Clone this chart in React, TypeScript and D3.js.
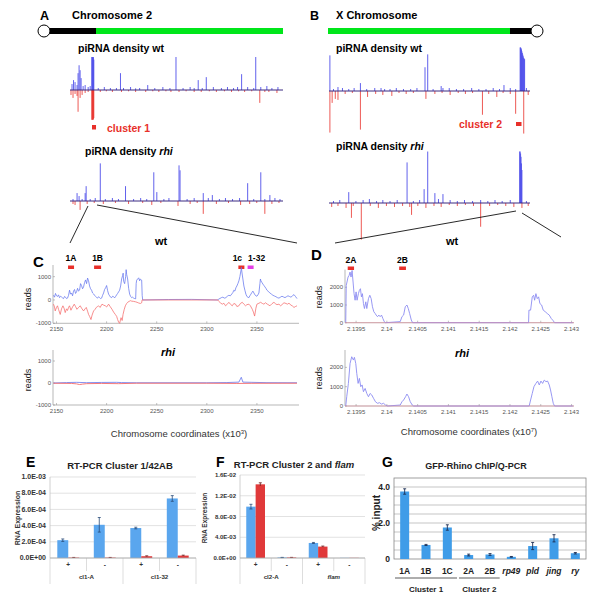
import React from "react";
import * as d3 from "d3";

type P = [number, number];

// ---------- Panel A (chromosome 2R, Mb vs relative piRNA density) ----------
const chr2WtSense: P[] = [[0.2,18],[0.35,30],[0.5,24],[0.7,15],[0.8,51],[0.9,75],[1.0,60],[1.1,36],[1.3,12],[1.5,15],[1.8,9],[2.0,12],[2.16,100],[2.2,100],[2.24,100],[2.28,97],[2.32,100],[2.36,92],[2.8,6],[3.4,9],[4.0,6],[4.6,6],[5.0,51],[5.3,6],[6.0,9],[6.5,5],[6.9,6],[7.7,15],[8.4,6],[9.2,9],[9.9,6],[10.5,100],[11.2,6],[11.9,9],[12.3,6],[12.7,30],[13.1,6],[13.5,39],[14.2,9],[15.0,6],[15.6,9],[16.2,6],[16.6,9],[17.0,48],[17.6,9],[18.2,6],[18.4,100],[18.9,9],[19.5,12],[20.0,6],[20.6,9]];
const chr2WtAnti: P[] = [[0.1,15],[0.3,24],[0.5,12],[0.7,18],[0.8,66],[1.0,24],[1.2,15],[1.5,9],[1.8,6],[2.16,90],[2.2,91],[2.24,90],[2.28,88],[2.32,90],[2.36,85],[3.0,6],[3.6,4],[4.2,6],[5.1,6],[5.8,4],[6.5,6],[7.5,6],[8.2,4],[8.8,6],[9.5,4],[10.0,6],[10.8,6],[11.5,4],[12.3,6],[13.0,6],[13.8,4],[14.5,6],[15.3,4],[16.0,6],[16.7,4],[17.3,6],[18.0,4],[18.8,39],[19.3,6],[19.7,6],[20.5,9]];
const chr2RhiSense: P[] = [[0.3,6],[0.7,24],[0.9,15],[1.2,6],[1.5,24],[1.6,45],[2.0,6],[2.5,9],[3.0,114],[3.5,6],[4.2,9],[4.8,6],[5.5,45],[6.3,6],[7.0,9],[7.6,6],[8.3,87],[8.6,27],[9.3,6],[9.8,9],[10.8,108],[10.9,93],[11.6,6],[12.3,9],[13.2,24],[13.7,9],[14.1,18],[14.8,6],[15.4,9],[16.1,6],[16.8,9],[17.6,54],[18.2,6],[18.9,87],[19.3,6],[19.8,18],[20.3,9],[20.8,6]];
const chr2RhiAnti: P[] = [[0.3,9],[0.5,12],[1.0,27],[1.7,9],[2.4,6],[3.3,9],[4.5,6],[5.8,9],[7.2,6],[8.1,12],[9.0,6],[10.7,15],[11.9,9],[12.6,6],[13.2,39],[14.5,9],[15.7,6],[16.9,12],[17.8,9],[18.5,6],[19.3,39],[20.0,9],[20.7,6]];

// ---------- Panel B (X chromosome) ----------
const chrXWtSense: P[] = [[0.1,108],[0.5,6],[1.0,12],[1.5,9],[2.2,6],[2.8,9],[3.5,24],[4.2,6],[5.1,9],[5.8,9],[6.2,6],[6.8,6],[7.5,9],[8.3,6],[9.1,6],[9.8,9],[10.7,72],[11.0,111],[11.6,6],[12.5,15],[12.7,9],[13.4,9],[14.2,6],[15.0,6],[15.9,9],[16.7,6],[17.5,6],[18.3,9],[19.0,6],[19.5,18],[20.2,9],[20.8,6],[21.3,132],[21.35,132],[21.4,130],[21.45,126],[21.5,120],[21.55,115],[21.6,110],[21.65,105],[21.7,100],[21.75,98],[21.8,96],[22.0,9]];
const chrXWtAnti: P[] = [[0.1,126],[0.35,36],[0.7,24],[1.0,27],[1.8,9],[2.6,6],[3.5,117],[4.3,18],[5.2,9],[6.0,12],[7.0,15],[7.8,6],[8.6,9],[9.4,6],[10.8,24],[11.8,9],[12.6,6],[13.5,12],[14.4,6],[15.2,9],[16.0,6],[17.1,72],[17.8,9],[18.7,18],[19.4,6],[20.2,9],[20.8,69],[21.7,129],[22.2,12]];
const chrXRhiSense: P[] = [[0.5,6],[1.2,9],[2.2,33],[3.0,6],[3.8,9],[4.5,12],[5.3,6],[6.0,9],[6.8,6],[7.6,9],[8.7,123],[9.4,6],[10.1,9],[10.6,42],[11.0,156],[11.8,30],[12.2,12],[12.7,27],[13.5,9],[14.3,6],[15.1,9],[16.0,6],[16.9,9],[17.7,6],[18.5,9],[19.3,6],[20.2,9],[21.25,156],[21.3,156],[21.35,150],[21.4,140],[21.45,120],[21.5,100],[22.0,6]];
const chrXRhiAnti: P[] = [[0.3,12],[1.0,9],[1.9,15],[2.5,45],[2.7,9],[3.6,111],[4.6,9],[5.5,15],[6.4,9],[7.3,12],[8.2,9],[9.0,12],[9.2,36],[9.9,9],[10.8,15],[11.7,9],[12.5,12],[13.4,6],[14.3,9],[15.2,6],[16.1,9],[16.9,72],[17.9,9],[18.8,6],[19.7,9],[20.6,12],[21.5,15],[22.2,9]];

// ---------- Panel C (cluster 1, coordinates x10^3, reads) ----------
const cWtSense: P[] = [[2147,200],[2148,120],[2149,280],[2150,180],[2151,150],[2152,220],[2153,100],[2154,160],[2155,130],[2156,90],[2157,60],[2158,150],[2159,120],[2160,60],[2161,80],[2162,200],[2163,420],[2164,250],[2165,300],[2166,180],[2167,380],[2168,450],[2169,280],[2170,350],[2171,500],[2172,380],[2173,420],[2174,700],[2175,620],[2176,480],[2177,560],[2178,750],[2179,860],[2180,700],[2181,940],[2182,820],[2183,600],[2184,480],[2185,420],[2186,300],[2187,260],[2188,200],[2189,150],[2190,110],[2191,80],[2192,140],[2193,100],[2194,60],[2195,80],[2196,200],[2197,300],[2198,450],[2199,520],[2200,620],[2201,400],[2202,250],[2203,180],[2204,120],[2205,100],[2206,160],[2207,140],[2208,90],[2209,150],[2210,220],[2211,280],[2212,350],[2213,420],[2214,600],[2215,900],[2216,1050],[2216.5,1150],[2217,800],[2218,700],[2219,1000],[2219.5,1300],[2220,1100],[2221,900],[2222,500],[2223,250],[2224,150],[2225,100],[2226,120],[2227,80],[2228,60],[2229,50],[2229.5,700],[2230,850],[2231,900],[2232,950],[2233,820],[2233.5,900],[2234,880],[2235,850],[2235.5,200],[2236,0],[2262,20],[2285,25],[2311,0],[2312,50],[2313,60],[2314.5,100],[2316,120],[2317.5,80],[2319,100],[2320.5,160],[2322,200],[2323.5,180],[2325,260],[2326,320],[2327,420],[2328,380],[2329,520],[2330,600],[2331,700],[2332,820],[2333,1000],[2334,1250],[2334.5,1400],[2335,1200],[2336,900],[2337,600],[2338,420],[2339,250],[2340,150],[2341,120],[2342,100],[2343,180],[2344,250],[2345,320],[2346,380],[2347,300],[2348,220],[2349,180],[2350,160],[2351,220],[2352,300],[2353,700],[2353.5,900],[2354,820],[2355,750],[2356,680],[2357,620],[2358,560],[2359,500],[2360,420],[2361,380],[2362,340],[2363,300],[2364.5,250],[2366,200],[2367.5,170],[2369,140],[2370.5,100],[2372,80],[2373.5,120],[2375,160],[2376.5,130],[2378,100],[2379.5,140],[2381,180],[2382.5,150],[2384,120],[2385.5,180],[2387,230],[2388.5,150],[2390,60]];
const cWtAnti: P[] = [[2147,-180],[2148,-300],[2148.7,-470],[2150,-320],[2151,-250],[2152,-400],[2153.7,-620],[2155,-380],[2156.4,-250],[2157.5,-350],[2158.7,-540],[2160,-380],[2161,-450],[2162,-320],[2163,-250],[2164.4,-440],[2166,-300],[2167.7,-180],[2169,-280],[2170.4,-400],[2172,-320],[2173.7,-250],[2175,-350],[2177,-470],[2178.5,-380],[2179.7,-320],[2181,-480],[2182,-620],[2183,-700],[2184.4,-840],[2185.5,-650],[2187,-470],[2188.5,-400],[2189.7,-320],[2191,-280],[2192,-250],[2193.5,-320],[2195.4,-180],[2197,-220],[2198.7,-250],[2200,-300],[2202,-180],[2203.5,-280],[2205.4,-400],[2207,-520],[2208.7,-620],[2210,-700],[2211,-840],[2212,-950],[2213,-1060],[2214.4,-760],[2215.5,-880],[2216.4,-620],[2217.5,-420],[2218.7,-250],[2220,-150],[2221,-100],[2222.5,-60],[2223.7,-30],[2225,-50],[2227,-60],[2229,-80],[2230.4,-100],[2232,-130],[2233.7,-150],[2235,-120],[2235.4,0],[2311,0],[2312,-60],[2313.5,-120],[2315.4,-180],[2317,-140],[2318.7,-250],[2320,-200],[2322,-100],[2323.5,-180],[2325.4,-250],[2327,-150],[2328.7,-180],[2330,-280],[2332,-250],[2333.5,-150],[2335.4,-100],[2337,-180],[2338.7,-250],[2340,-200],[2342,-180],[2343.5,-250],[2345.4,-400],[2346.5,-520],[2347.7,-690],[2349,-350],[2350,-180],[2352,-140],[2353.7,-100],[2355.5,-150],[2357,-180],[2358.5,-120],[2360.4,-180],[2362,-220],[2363,-250],[2365,-160],[2367,-100],[2368.5,-160],[2370,-200],[2372,-180],[2373.7,-250],[2375,-200],[2377,-120],[2379,-150],[2380.4,-180],[2382,-140],[2384,-220],[2385.5,-260],[2387,-320],[2388.5,-280],[2390,-250]];
const cRhiSense: P[] = [[2147,0],[2160,20],[2170,30],[2180,15],[2195,25],[2210,30],[2215,20],[2230,10],[2300,10],[2320,20],[2332,40],[2334.4,260],[2336,40],[2345,30],[2360,15],[2390,10]];
const cRhiAnti: P[] = [[2147,-10],[2165,-20],[2170,-40],[2173,-70],[2176,-50],[2180,-30],[2195,-20],[2212,-30],[2230,-10],[2300,-10],[2330,-20],[2345,-15],[2390,-10]];
const cAmpLabels = ["1A", "1B", "1c", "1-32"];
const cAmpStart = [2161.5, 2187.5, 2331.5, 2340.7];
const cAmpEnd = [2167.5, 2194.5, 2337.5, 2346.7];

// ---------- Panel D (cluster 2, coordinates in kb; axis shown x10^7) ----------
const dWt: P[] = [[21393.32,0],[21393.4,2100],[21393.7,2580],[21393.86,2670],[21394.02,2860],[21394.18,2580],[21394.35,2950],[21394.51,2300],[21394.67,1640],[21394.84,1270],[21395.0,1740],[21395.16,1270],[21395.38,1640],[21395.54,1830],[21395.71,1920],[21395.87,1460],[21396.03,1640],[21396.2,1080],[21396.36,800],[21396.58,1180],[21396.74,800],[21397.01,1360],[21397.23,1550],[21397.45,1360],[21397.66,900],[21397.88,620],[21398.1,520],[21398.26,430],[21398.48,340],[21398.7,430],[21398.91,340],[21399.13,430],[21399.35,240],[21399.57,60],[21399.78,0],[21402.17,60],[21402.45,340],[21402.72,430],[21402.99,900],[21403.26,1000],[21403.48,800],[21403.7,520],[21403.97,150],[21404.18,0],[21423.02,0],[21423.08,710],[21423.35,710],[21423.62,1460],[21423.84,1550],[21424.0,1270],[21424.21,1640],[21424.43,1360],[21424.65,1460],[21424.86,1080],[21425.14,1000],[21425.4,710],[21425.73,620],[21426.05,520],[21426.38,430],[21426.7,240],[21427.03,110],[21427.24,0],[21430.2,0]];
const dRhi: P[] = [[21393.32,0],[21393.48,480],[21393.75,1170],[21394.02,2200],[21394.29,2550],[21394.57,2380],[21394.73,2520],[21394.95,2200],[21395.11,1690],[21395.33,1170],[21395.54,1430],[21395.76,1000],[21395.98,1090],[21396.2,740],[21396.47,910],[21396.74,650],[21397.01,480],[21397.28,650],[21397.55,570],[21397.83,400],[21398.15,220],[21398.48,140],[21398.8,170],[21399.13,100],[21399.46,140],[21399.78,50],[21400.11,0],[21402.17,50],[21402.45,220],[21402.72,310],[21403.04,480],[21403.26,620],[21403.53,480],[21403.8,220],[21404.13,50],[21404.35,0],[21423.12,0],[21423.35,310],[21423.62,650],[21423.89,1000],[21424.21,1170],[21424.49,1290],[21424.76,1090],[21425.03,1290],[21425.3,1170],[21425.57,1340],[21425.84,1260],[21426.11,1290],[21426.38,1090],[21426.59,830],[21426.81,480],[21427.03,140],[21427.24,0],[21430.2,0]];
const dAmpLabels = ["2A", "2B"];
const dAmpStart = [21393.64, 21402.0];
const dAmpEnd = [21394.67, 21403.1];

// ---------- Panel E ----------
const eSub = ["+", "-", "+", "-"];
const eGroups = ["cl1-A", "cl1-32"];
const eBlue = [2.2e-4, 4.1e-4, 3.7e-4, 7.35e-4];
const eBlueErr = [0.15e-4, 0.9e-4, 0.1e-4, 0.35e-4];
const eRed = [0.05e-4, 0.05e-4, 0.22e-4, 0.3e-4];
const eRedErr = [0.02e-4, 0.02e-4, 0.05e-4, 0.05e-4];
const eTicks = [0, 2e-4, 4e-4, 6e-4, 8e-4, 1e-3];

// ---------- Panel F ----------
const fSub = ["+", "-", "+", "-"];
const fGroups = ["cl2-A", "flam"];
const fBlue = [9.9e-3, 0.1e-3, 2.9e-3, 0.03e-3];
const fBlueErr = [0.45e-3, 0.02e-3, 0.1e-3, 0];
const fRed = [1.42e-2, 0.1e-3, 2.2e-3, 0.03e-3];
const fRedErr = [0.3e-3, 0.02e-3, 0.1e-3, 0];
const fTicks = [0, 4e-3, 8e-3, 1.2e-2, 1.6e-2];

// ---------- Panel G ----------
const gCats = ["1A", "1B", "1C", "2A", "2B", "rp49", "pld", "jing", "ry"];
const gItalic = [false, false, false, false, false, true, true, true, true];
const gVals = [3.75, 0.78, 1.75, 0.22, 0.25, 0.12, 0.72, 1.15, 0.32];
const gErr = [0.15, 0.03, 0.15, 0.05, 0.05, 0.02, 0.2, 0.2, 0.04];
const gTicks = [0, 2.0, 4.0];
const gTickLabels = ["0", "2.0", "4.0"];
const gGrid = [0.5, 1, 1.5, 2, 2.5, 3, 3.5, 4];
const gClusters = [{ label: "Cluster 1", from: "1A", to: "1C" }, { label: "Cluster 2", from: "2A", to: "2B" }];

const FONT = "'Liberation Sans', Arial, Helvetica, sans-serif";
const RED = "#e8302a";
const TBLUE = "#4f4fea";
const LBLUE = "#6476ee";
const LRED = "#f46a6a";
const DBLUE = "#8c8cf2";
const BAR_BLUE = "#5aa6ee";
const BAR_RED = "#e0393a";
const G_BLUE = "#3f9ce8";

function sci(v: number) {
  if (v === 0) return "0.0E+00";
  const e = Math.floor(Math.log10(Math.abs(v)) + 1e-9);
  const m = v / Math.pow(10, e);
  return m.toFixed(1) + "E" + (e < 0 ? "-" : "+") + String(Math.abs(e)).padStart(2, "0");
}

const densK = d3.scaleLinear().domain([0, 100]).range([0, 33]);

function Spikes({ data, x, base, dir, color, w = 0.9 }: any) {
  return (
    <g stroke={color} strokeWidth={w}>
      {data.map((d: P, i: number) => (
        <line key={i} x1={x(d[0])} x2={x(d[0])} y1={base} y2={base - dir * densK(d[1])} />
      ))}
    </g>
  );
}

function Track({ sense, anti, x, base }: any) {
  const [r0, r1] = x.range();
  return (
    <g>
      <Spikes data={anti} x={x} base={base} dir={-1} color={RED} w={0.8} />
      <Spikes data={sense} x={x} base={base} dir={1} color={TBLUE} w={0.9} />
      <line x1={r0} x2={r1} y1={base} y2={base} stroke="#3a2a80" strokeWidth={1} />
    </g>
  );
}

function TraceAxes({ x, y, xTicks, yTicks, xFmt }: any) {
  const [x0, x1] = x.range();
  const [yb, yt] = y.range();
  return (
    <g fontSize={6} fill="#555" fontFamily={FONT}>
      <line x1={x0} x2={x0} y1={yb} y2={yt} stroke="#999" strokeWidth={0.7} />
      <line x1={x0} x2={x1} y1={yb} y2={yb} stroke="#999" strokeWidth={0.7} />
      {yTicks.map((t: number) => (
        <g key={"y" + t}>
          <line x1={x0} x2={x0 + 2} y1={y(t)} y2={y(t)} stroke="#999" strokeWidth={0.6} />
          <text x={x0 - 2} y={y(t) + 2} textAnchor="end">{t}</text>
        </g>
      ))}
      {xTicks.map((t: number) => (
        <g key={"x" + t}>
          <line x1={x(t)} x2={x(t)} y1={yb} y2={yb - 2} stroke="#999" strokeWidth={0.6} />
          <text x={x(t)} y={yb + 8} textAnchor="middle">{xFmt(t)}</text>
        </g>
      ))}
    </g>
  );
}

function BarChart({ sub, groups, blue, blueErr, red, redErr, ticks, x0, x1, y0, y1, max, tickFont }: any) {
  const x = d3.scaleBand<number>().domain(d3.range(sub.length)).range([x0, x1]);
  const y = d3.scaleLinear().domain([0, max]).range([y0, y1]);
  const bw = x.bandwidth() * 0.3;
  const gw = x.bandwidth() * 2;
  return (
    <g fontFamily={FONT}>
      {ticks.map((t: number) => (
        <g key={t}>
          <line x1={x0} x2={x1} y1={y(t)} y2={y(t)} stroke="#d6d6d6" strokeWidth={0.7} />
          <text x={x0 - 4} y={y(t) + 2.2} textAnchor="end" fontSize={tickFont} fontWeight="bold" fill="#333">{sci(t)}</text>
        </g>
      ))}
      <line x1={x0} x2={x0} y1={y1} y2={y0} stroke="#c4c4c4" strokeWidth={0.8} />
      {sub.map((s: string, i: number) => {
        const c = (x(i) as number) + x.bandwidth() / 2;
        return (
          <g key={i}>
            <rect x={c - bw} y={y(blue[i])} width={bw} height={y0 - y(blue[i])} fill={BAR_BLUE} />
            <rect x={c} y={y(red[i])} width={bw} height={y0 - y(red[i])} fill={BAR_RED} />
            {blueErr[i] > 0 && (
              <g stroke="#2a4c7a" strokeWidth={0.8}>
                <line x1={c - bw / 2} x2={c - bw / 2} y1={y(blue[i] - blueErr[i])} y2={y(blue[i] + blueErr[i])} />
                <line x1={c - bw / 2 - 1.5} x2={c - bw / 2 + 1.5} y1={y(blue[i] + blueErr[i])} y2={y(blue[i] + blueErr[i])} />
                <line x1={c - bw / 2 - 1.5} x2={c - bw / 2 + 1.5} y1={y(blue[i] - blueErr[i])} y2={y(blue[i] - blueErr[i])} />
              </g>
            )}
            {redErr[i] > 0 && (
              <g stroke="#6a1a1a" strokeWidth={0.8}>
                <line x1={c + bw / 2} x2={c + bw / 2} y1={y(red[i] - redErr[i])} y2={y(red[i] + redErr[i])} />
                <line x1={c + bw / 2 - 1.5} x2={c + bw / 2 + 1.5} y1={y(red[i] + redErr[i])} y2={y(red[i] + redErr[i])} />
              </g>
            )}
            <text x={c} y={y0 + 9} textAnchor="middle" fontSize={6.5} fontWeight="bold" fill="#333">{s}</text>
            <line x1={x(i) as number} x2={x(i) as number} y1={y0} y2={i % 2 === 0 ? y0 + 26 : y0 + 13} stroke="#cfcfcf" strokeWidth={0.7} />
          </g>
        );
      })}
      <line x1={x1} x2={x1} y1={y0} y2={y0 + 26} stroke="#cfcfcf" strokeWidth={0.7} />
      <line x1={x0} x2={x1} y1={y0} y2={y0} stroke="#a8a8a8" strokeWidth={0.8} />
      {groups.map((g: string, j: number) => (
        <text key={g} x={x0 + gw * j + gw / 2} y={y0 + 21} textAnchor="middle" fontSize={6.2} fontWeight="bold" fill="#333" fontStyle={g === "flam" ? "italic" : "normal"}>{g}</text>
      ))}
    </g>
  );
}

export default function App() {
  const chr2X = d3.scaleLinear().domain([0, 21.1]).range([70, 283]);
  const chrXX = d3.scaleLinear().domain([0, 22.4]).range([329, 530]);

  const xC = d3.scaleLinear().domain([2146.5, 2392]).range([53, 299]);
  const yCwt = d3.scaleLinear().domain([-1000, 1500]).range([323.3, 265]).clamp(true);
  const yCrhi = d3.scaleLinear().domain([-1000, 1500]).range([405, 350]).clamp(true);
  const xD = d3.scaleLinear().domain([21393.2, 21430.4]).range([345, 574]);
  const yDwt = d3.scaleLinear().domain([0, 3000]).range([322.7, 269.6]);
  const yDrhi = d3.scaleLinear().domain([0, 2900]).range([406, 350]);

  const lineOf = (x: any, y: any) => d3.line<P>().x((d) => x(d[0])).y((d) => y(d[1]));
  const cTicks = [2150, 2200, 2250, 2300, 2350];
  const dTicks = [21395, 21400, 21405, 21410, 21415, 21420, 21425, 21430];
  const dFmt = (v: number) => String(+(v / 10000).toFixed(4));

  const xG = d3.scaleBand<string>().domain(gCats).range([394, 586]);
  const yG = d3.scaleLinear().domain([0, 4.5]).range([559, 478]);
  const gbw = 9;

  return (
    <svg width={593} height={600} viewBox="0 0 593 600" style={{ position: "absolute", left: 0, top: 0 }} fontFamily={FONT}>
      <rect width={593} height={600} fill="#fff" />

      {/* ===== Panel A ===== */}
      <text x={40} y={20} fontSize={12.5} fontWeight="bold">A</text>
      <text x={72} y={19} fontSize={11} fontWeight="bold">Chromosome 2</text>
      <rect x={44} y={28} width={52} height={6} fill="#000" />
      <rect x={96} y={28} width={187} height={6} fill="#00e61a" />
      <circle cx={44} cy={31} r={6} fill="#fff" stroke="#000" strokeWidth={1} />
      <text x={78} y={52} fontSize={10.5} fontWeight="bold">piRNA density wt</text>
      <Track sense={chr2WtSense} anti={chr2WtAnti} x={chr2X} base={90} />
      <rect x={chr2X(2.18)} y={125} width={chr2X(2.38) - chr2X(2.18) + 2} height={4.5} fill={RED} />
      <text x={107} y={132} fontSize={10.5} fontWeight="bold" fill={RED}>cluster 1</text>
      <text x={85} y={155} fontSize={10.5} fontWeight="bold">piRNA density <tspan fontStyle="italic">rhi</tspan></text>
      <Track sense={chr2RhiSense} anti={chr2RhiAnti} x={chr2X} base={201} />

      {/* ===== Panel B ===== */}
      <text x={310} y={20} fontSize={12.5} fontWeight="bold">B</text>
      <text x={336} y={19} fontSize={11} fontWeight="bold">X Chromosome</text>
      <rect x={328} y={28} width={182} height={6} fill="#00e61a" />
      <rect x={510} y={28} width={25} height={6} fill="#000" />
      <circle cx={537} cy={31} r={6} fill="#fff" stroke="#000" strokeWidth={1} />
      <text x={336} y={52} fontSize={10.5} fontWeight="bold">piRNA density wt</text>
      <Track sense={chrXWtSense} anti={chrXWtAnti} x={chrXX} base={91} />
      <text x={459} y={128} fontSize={10.5} fontWeight="bold" fill={RED}>cluster 2</text>
      <rect x={516} y={122} width={5.5} height={4} fill={RED} />
      <text x={336} y={150} fontSize={10.5} fontWeight="bold">piRNA density <tspan fontStyle="italic">rhi</tspan></text>
      <Track sense={chrXRhiSense} anti={chrXRhiAnti} x={chrXX} base={203} />

      {/* zoom lines */}
      <g stroke="#111" strokeWidth={0.9}>
        <line x1={88} y1={206} x2={70} y2={243} />
        <line x1={97} y1={205} x2={297} y2={243} />
        <line x1={516} y1={211} x2={335} y2={243} />
        <line x1={522} y1={213} x2={561} y2={237} />
      </g>

      {/* ===== Panel C ===== */}
      <text x={161} y={245} fontSize={11} fontWeight="bold" textAnchor="middle">wt</text>
      <text x={33} y={267} fontSize={15} fontWeight="bold">C</text>
      {cAmpLabels.map((l, i) => {
        const dx = [0, 0, -4, 6][i];
        const c = (xC(cAmpStart[i]) + xC(cAmpEnd[i])) / 2;
        return (
          <g key={l}>
            <rect x={xC(cAmpStart[i])} y={265.5} width={xC(cAmpEnd[i]) - xC(cAmpStart[i])} height={3.5} fill={l === "1-32" ? "#e23ee6" : RED} />
            <text x={c + dx} y={261} fontSize={8.5} fontWeight="bold" textAnchor="middle">{l}</text>
          </g>
        );
      })}
      <TraceAxes x={xC} y={yCwt} xTicks={cTicks} yTicks={[-1000, 0, 1000]} xFmt={(v: number) => String(v)} />
      <path d={lineOf(xC, yCwt)(cWtSense) as string} fill="none" stroke={LBLUE} strokeWidth={0.75} />
      <path d={lineOf(xC, yCwt)(cWtAnti) as string} fill="none" stroke={LRED} strokeWidth={0.75} />
      <text transform="translate(31,299) rotate(-90)" fontSize={9} textAnchor="middle" fill="#222">reads</text>

      <text x={168} y={356} fontSize={11} fontWeight="bold" fontStyle="italic" textAnchor="middle">rhi</text>
      <TraceAxes x={xC} y={yCrhi} xTicks={cTicks} yTicks={[-1000, 0, 1000]} xFmt={(v: number) => String(v)} />
      <path d={lineOf(xC, yCrhi)(cRhiSense) as string} fill="none" stroke={LBLUE} strokeWidth={0.8} />
      <path d={lineOf(xC, yCrhi)(cRhiAnti) as string} fill="none" stroke={LRED} strokeWidth={0.9} />
      <text transform="translate(31,380) rotate(-90)" fontSize={9} textAnchor="middle" fill="#222">reads</text>
      <text x={179} y={437} fontSize={9.5} textAnchor="middle" fill="#333">Chromosome coordinates (x10<tspan dy={-3} fontSize={6}>3</tspan><tspan dy={3}>)</tspan></text>

      {/* ===== Panel D ===== */}
      <text x={452} y={245} fontSize={11} fontWeight="bold" textAnchor="middle">wt</text>
      <text x={311} y={260} fontSize={15} fontWeight="bold">D</text>
      {dAmpLabels.map((l, i) => {
        const c = (xD(dAmpStart[i]) + xD(dAmpEnd[i])) / 2;
        return (
          <g key={l}>
            <rect x={xD(dAmpStart[i])} y={266.5} width={xD(dAmpEnd[i]) - xD(dAmpStart[i])} height={3.5} fill={RED} />
            <text x={c} y={263} fontSize={8.5} fontWeight="bold" textAnchor="middle">{l}</text>
          </g>
        );
      })}
      <TraceAxes x={xD} y={yDwt} xTicks={dTicks} yTicks={[0, 1000, 2000]} xFmt={dFmt} />
      <path d={lineOf(xD, yDwt)(dWt) as string} fill="none" stroke={DBLUE} strokeWidth={0.9} />
      <line x1={345} x2={574} y1={yDwt(0)} y2={yDwt(0)} stroke="#f08a9a" strokeWidth={0.7} opacity={0.7} />
      <text transform="translate(322,297) rotate(-90)" fontSize={9} textAnchor="middle" fill="#222">reads</text>

      <text x={462} y={357} fontSize={11} fontWeight="bold" fontStyle="italic" textAnchor="middle">rhi</text>
      <TraceAxes x={xD} y={yDrhi} xTicks={dTicks} yTicks={[0, 1000, 2000]} xFmt={dFmt} />
      <path d={lineOf(xD, yDrhi)(dRhi) as string} fill="none" stroke={DBLUE} strokeWidth={0.9} />
      <line x1={345} x2={574} y1={yDrhi(0)} y2={yDrhi(0)} stroke="#f08a9a" strokeWidth={0.7} opacity={0.7} />
      <text transform="translate(322,378) rotate(-90)" fontSize={9} textAnchor="middle" fill="#222">reads</text>
      <text x={469} y={435} fontSize={9.5} textAnchor="middle" fill="#333">Chromosome coordinates (x10<tspan dy={-3} fontSize={6}>7</tspan><tspan dy={3}>)</tspan></text>

      {/* ===== Panel E ===== */}
      <text x={26} y={467} fontSize={14} fontWeight="bold">E</text>
      <text x={120} y={469} fontSize={9.5} fontWeight="bold" textAnchor="middle" fill="#222">RT-PCR Cluster 1/42AB</text>
      <BarChart sub={eSub} groups={eGroups} blue={eBlue} blueErr={eBlueErr} red={eRed} redErr={eRedErr} ticks={eTicks} x0={50} x1={196} y0={558} y1={477} max={1e-3} tickFont={7} />
      <text transform="translate(20,518) rotate(-90)" fontSize={7} fontWeight="bold" textAnchor="middle" fill="#333">RNA Expression</text>

      {/* ===== Panel F ===== */}
      <text x={216} y={467} fontSize={14} fontWeight="bold">F</text>
      <text x={294} y={468} fontSize={9.5} fontWeight="bold" textAnchor="middle" fill="#222">RT-PCR Cluster 2 and <tspan fontStyle="italic">flam</tspan></text>
      <BarChart sub={fSub} groups={fGroups} blue={fBlue} blueErr={fBlueErr} red={fRed} redErr={fRedErr} ticks={fTicks} x0={240} x1={365} y0={558} y1={475} max={1.6e-2} tickFont={6} />
      <text transform="translate(207,518) rotate(-90)" fontSize={6.5} fontWeight="bold" textAnchor="middle" fill="#333">RNA Expression</text>

      {/* ===== Panel G ===== */}
      <text x={382} y={467} fontSize={14} fontWeight="bold">G</text>
      <text x={476} y={469} fontSize={9} fontWeight="bold" textAnchor="middle" fill="#222">GFP-Rhino ChIP/Q-PCR</text>
      {gGrid.map((t) => (
        <line key={t} x1={394} x2={586} y1={yG(t)} y2={yG(t)} stroke="#a0a0a0" strokeWidth={0.6} />
      ))}
      <rect x={394} y={478} width={192} height={81} fill="none" stroke="#888" strokeWidth={0.8} />
      {gTicks.map((t, i) => (
        <text key={t} x={390} y={yG(t) + 3} fontSize={8.5} fontWeight="bold" textAnchor="end" fill="#222">{gTickLabels[i]}</text>
      ))}
      {gCats.map((c, i) => {
        const cx = (xG(c) as number) + xG.bandwidth() / 2;
        return (
          <g key={c}>
            <rect x={cx - gbw / 2} y={yG(gVals[i])} width={gbw} height={559 - yG(gVals[i])} fill={G_BLUE} />
            <g stroke="#1d2f55" strokeWidth={0.9}>
              <line x1={cx} x2={cx} y1={yG(gVals[i] - gErr[i])} y2={yG(gVals[i] + gErr[i])} />
              <line x1={cx - 1.5} x2={cx + 1.5} y1={yG(gVals[i] + gErr[i])} y2={yG(gVals[i] + gErr[i])} />
              <line x1={cx - 1.5} x2={cx + 1.5} y1={yG(gVals[i] - gErr[i])} y2={yG(gVals[i] - gErr[i])} />
            </g>
            <text x={cx} y={574} fontSize={8.5} fontWeight="bold" textAnchor="middle" fontStyle={gItalic[i] ? "italic" : "normal"} fill="#222">{c}</text>
          </g>
        );
      })}
      {gClusters.map((g) => {
        const a = (xG(g.from) as number) + 1;
        const b = (xG(g.to) as number) + xG.bandwidth() - 1;
        return (
          <g key={g.label}>
            <line x1={a} x2={b} y1={578} y2={578} stroke="#333" strokeWidth={0.8} />
            <text x={(a + b) / 2} y={592} fontSize={8} fontWeight="bold" textAnchor="middle" fill="#222">{g.label}</text>
          </g>
        );
      })}
      <text transform="translate(380,513) rotate(-90)" fontSize={10} fontWeight="bold" textAnchor="middle" fill="#222">% input</text>
    </svg>
  );
}
